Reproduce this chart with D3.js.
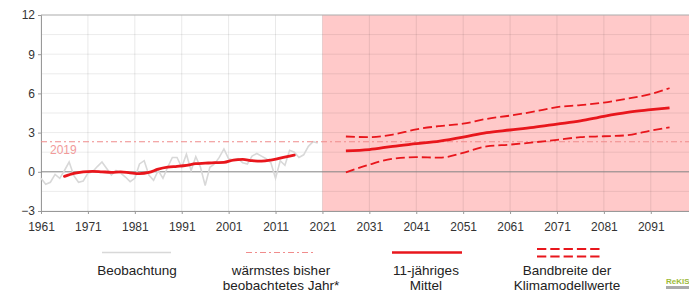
<!DOCTYPE html>
<html><head><meta charset="utf-8">
<script src="https://cdn.jsdelivr.net/npm/d3@7/dist/d3.min.js"></script>
<style>html,body{margin:0;padding:0;background:#fff;overflow:hidden}svg{display:block;font-family:"Liberation Sans",Arial,sans-serif}</style>
</head><body>
<svg id="c" width="689" height="293"></svg>
<script>
// ---- data ----
const obsYears = d3.range(1961, 2021);
const obsValues = [-0.5,-0.95,-0.8,-0.2,-0.5,0.1,0.75,-0.3,-0.8,-0.7,
  -0.1,0.0,0.4,0.75,0.25,-0.25,0.1,-0.1,-0.4,-0.75,
  -0.5,0.6,0.85,-0.25,-0.65,0.1,-0.5,0.35,1.1,1.1,
  0.35,1.35,0.1,1.15,0.35,-1.05,0.35,0.6,1.1,1.75,
  1.0,0.9,1.0,0.7,0.6,1.2,1.4,1.2,1.0,0.7,
  -0.5,0.85,0.5,1.65,1.5,1.1,1.3,1.95,2.3,2.2];
const meanYears = [1966,1968,1970,1972,1974,1976,1978,1980,1982,1984,1986,1988,1990,1992,1994,1996,1998,2000,2002,2004,2006,2008,2010,2012,2014,2015];
const meanValues = [-0.35,-0.12,0.0,0.04,0.0,-0.04,0.0,-0.08,-0.14,-0.05,0.2,0.35,0.42,0.5,0.62,0.66,0.7,0.72,0.9,0.95,0.85,0.82,0.9,1.05,1.2,1.27];
const projYears = [2026,2031,2036,2041,2046,2051,2056,2061,2066,2071,2076,2081,2086,2091,2095];
const projMean  = [1.6,1.7,1.95,2.15,2.35,2.65,3.0,3.2,3.4,3.65,3.9,4.25,4.55,4.75,4.9];
const projUpper = [2.7,2.65,2.85,3.25,3.5,3.68,4.05,4.3,4.6,4.95,5.1,5.3,5.6,5.95,6.4];
const projLower = [-0.05,0.55,1.0,1.12,1.08,1.45,1.95,2.08,2.25,2.45,2.65,2.72,2.8,3.15,3.4];
const warmestValue = 2.3;
const warmestLabel = "2019";
const projStart = 2021;
const xTicks = [1961,1971,1981,1991,2001,2011,2021,2031,2041,2051,2061,2071,2081,2091];
const yTicks = [-3,0,3,6,9,12];
const yMinor = [-1.5,1.5,4.5,7.5,10.5];
const legendLabels = [["Beobachtung"],["wärmstes bisher","beobachtetes Jahr*"],["11-jähriges","Mittel"],["Bandbreite der","Klimamodellwerte"]];

// ---- chart ----
const svg = d3.select("#c");
const x = d3.scaleLinear().domain([1961, 2100]).range([41, 693]);
const y = d3.scaleLinear().domain([-3, 12]).range([211, 15]);
const RED = "#e8161c";

// projection background
svg.append("rect").attr("x", x(projStart)).attr("y", y(12)).attr("width", x(2100) - x(projStart)).attr("height", y(-3) - y(12)).attr("fill", "#ffc9c9");

// grid
const g = svg.append("g");
g.selectAll(".vg").data(xTicks).join("line")
  .attr("x1", d => x(d)).attr("x2", d => x(d)).attr("y1", y(12)).attr("y2", y(-3))
  .attr("stroke", "rgba(0,0,0,0.09)").attr("stroke-width", 1);
g.selectAll(".hg").data(yTicks.concat(yMinor)).join("line")
  .attr("x1", x(1961)).attr("x2", 689).attr("y1", d => y(d)).attr("y2", d => y(d))
  .attr("stroke", "rgba(0,0,0,0.08)").attr("stroke-width", 1);
// top frame
svg.append("line").attr("x1", x(1961)).attr("x2", 689).attr("y1", y(12)).attr("y2", y(12)).attr("stroke", "#b5b5b5");

// axes
const yAxis = d3.axisLeft(y).tickValues(yTicks).tickSize(3).tickPadding(3);
const ya = svg.append("g").attr("transform", `translate(${x(1961)},0)`).call(yAxis);
ya.select(".domain").attr("stroke", "#999");
ya.selectAll(".tick line").attr("stroke", "#999");
ya.selectAll("text").attr("font-size", 12).attr("fill", "#333").attr("font-family", "Liberation Sans, Arial, sans-serif");

const xAxis = d3.axisBottom(x).tickValues(xTicks).tickFormat(d3.format("d")).tickSize(3).tickPadding(8);
const xa = svg.append("g").attr("transform", `translate(0,${y(-3)})`).call(xAxis);
xa.select(".domain").attr("stroke", "#999");
xa.selectAll(".tick line").attr("stroke", "#999");
xa.selectAll("text").attr("font-size", 12).attr("fill", "#333").attr("font-family", "Liberation Sans, Arial, sans-serif");

// zero line
svg.append("line").attr("x1", x(1961)).attr("x2", 689).attr("y1", y(0)).attr("y2", y(0)).attr("stroke", "#8a8a8a").attr("stroke-width", 1);

// observations
const line = d3.line().x(d => x(d[0])).y(d => y(d[1]));
const smooth = d3.line().x(d => x(d[0])).y(d => y(d[1])).curve(d3.curveMonotoneX);
svg.append("path").datum(obsYears.map((yr, i) => [yr, obsValues[i]]))
  .attr("d", line).attr("fill", "none").attr("stroke", "#d8d8d8").attr("stroke-width", 1.6);

// warmest year line
svg.append("line").attr("x1", x(1961)).attr("x2", 689).attr("y1", y(warmestValue)).attr("y2", y(warmestValue))
  .attr("stroke", "#f08c8c").attr("stroke-width", 1.2).attr("stroke-dasharray", "6,3,2,3");
svg.append("text").attr("x", 50).attr("y", 154).attr("font-size", 12).attr("fill", "#f29a9a").text(warmestLabel);

// 11-year mean (observed)
svg.append("path").datum(meanYears.map((yr, i) => [yr, meanValues[i]]))
  .attr("d", smooth).attr("fill", "none").attr("stroke", RED).attr("stroke-width", 2.8).attr("stroke-linecap", "round");

// projections
svg.append("path").datum(projYears.map((yr, i) => [yr, projMean[i]]))
  .attr("d", smooth).attr("fill", "none").attr("stroke", RED).attr("stroke-width", 2.8);
[projUpper, projLower].forEach(arr => {
  svg.append("path").datum(projYears.map((yr, i) => [yr, arr[i]]))
    .attr("d", smooth).attr("fill", "none").attr("stroke", RED).attr("stroke-width", 1.8).attr("stroke-dasharray", "9,4");
});

// legend
const lg = svg.append("g");
lg.append("line").attr("x1", 102).attr("x2", 171).attr("y1", 252.5).attr("y2", 252.5).attr("stroke", "#d8d8d8").attr("stroke-width", 1.6);
lg.append("line").attr("x1", 246).attr("x2", 316).attr("y1", 252.5).attr("y2", 252.5).attr("stroke", "#f08c8c").attr("stroke-width", 1.2).attr("stroke-dasharray", "6,3,2,3");
lg.append("line").attr("x1", 392).attr("x2", 462).attr("y1", 252.5).attr("y2", 252.5).attr("stroke", RED).attr("stroke-width", 2.6);
[249, 256.5].forEach(yy => lg.append("line").attr("x1", 537).attr("x2", 600).attr("y1", yy).attr("y2", yy).attr("stroke", RED).attr("stroke-width", 2).attr("stroke-dasharray", "9.3,4"));
const centers = [137, 281, 426, 567];
legendLabels.forEach((lines, i) => {
  lines.forEach((t, j) => {
    lg.append("text").attr("x", centers[i]).attr("y", 274.5 + j * 15.5).attr("text-anchor", "middle")
      .attr("font-size", 13.5).attr("fill", "#222").text(t);
  });
});

// logo
svg.append("text").attr("x", 666).attr("y", 283.5).attr("font-size", 8).attr("font-weight", "bold").attr("fill", "#9dbb3a").text("ReKIS");
svg.append("rect").attr("x", 666).attr("y", 286).attr("width", 23).attr("height", 3).attr("fill", "#aaa");
</script>
</body></html>
